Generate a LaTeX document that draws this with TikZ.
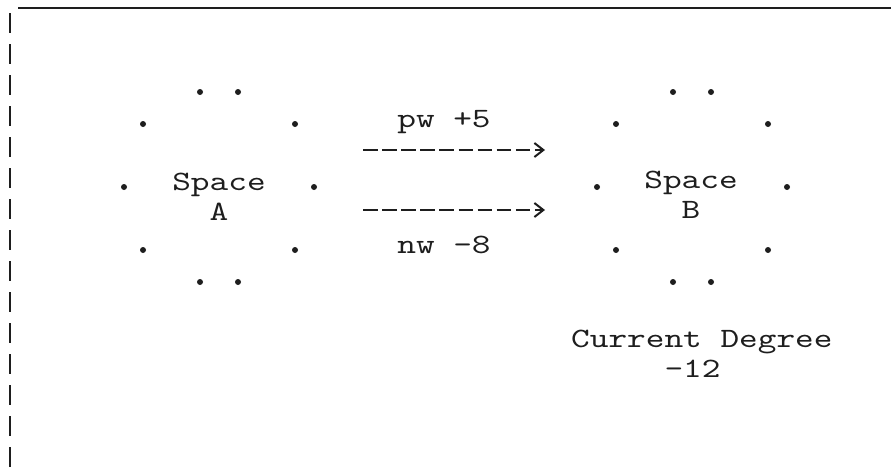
\documentclass[tikz,border=0pt]{standalone}
\usepackage{fontspec}
% typewriter face: Latin Modern Mono, widened to a 10-pitch look
\newfontfamily\tw{lmmono10-regular.otf}[FakeStretch=1.27]
\usetikzlibrary{arrows.meta,calc}
\definecolor{ink}{HTML}{1E1E1E}
\tikzset{
  typed/.style={font=\tw\fontsize{28}{30}\selectfont, text=ink, inner sep=0pt},
  typed arrow/.style={draw=ink, line width=2.6pt,
    dash pattern=on 14.5pt off 4.6pt,
    -{Straight Barb[length=9pt,width=14pt,line width=2pt]}},
  rule line/.style={draw=ink, line width=2pt},
}
\newcommand\dotring[1]{%
  \foreach \dx/\dy in {-19/-95,19/-95,-76/-63,76/-63,-95/0,95/0,-76/63,76/63,-19/95,19/95}
    \fill[ink] ($(#1)+(\dx,\dy)$) circle (3pt);}
\begin{document}
\begin{tikzpicture}[x=1pt,y=-1pt]
  \useasboundingbox (0,0) rectangle (891,471);
  % page frame: top rule and typed left border
  \draw[rule line] (18,8) -- (891,8);
  \draw[rule line, dash pattern=on 20pt off 11pt] (10,13) -- (10,471);

  % the two spaces, each a ring of dots round its name
  % (base anchor of a two-line node sits on its last line)
  \coordinate (ringA) at (219,187);
  \coordinate (ringB) at (692,187);
  \dotring{ringA}
  \dotring{ringB}
  \node[typed, align=center, anchor=base] (spaceA) at (219,220) {Space\\A};
  \node[typed, align=center, anchor=base] (spaceB) at (691,218) {Space\\B};

  % transfers from A to B
  \coordinate (pwS) at (363,150);
  \coordinate (pwE) at (545,150);
  \coordinate (nwS) at (363,210);
  \coordinate (nwE) at (545,210);
  \draw[typed arrow] (pwS) -- (pwE);
  \draw[typed arrow] (nwS) -- (nwE);
  \node[typed, anchor=base] (pw) at (444,127) {pw +5};
  \node[typed, anchor=base] (nw) at (444,253) {nw -8};

  % resulting degree of B
  \node[typed, align=left, anchor=base west] (deg) at (571,377)
    {Current Degree\\\phantom{Curre}-12};
\end{tikzpicture}
\end{document}
